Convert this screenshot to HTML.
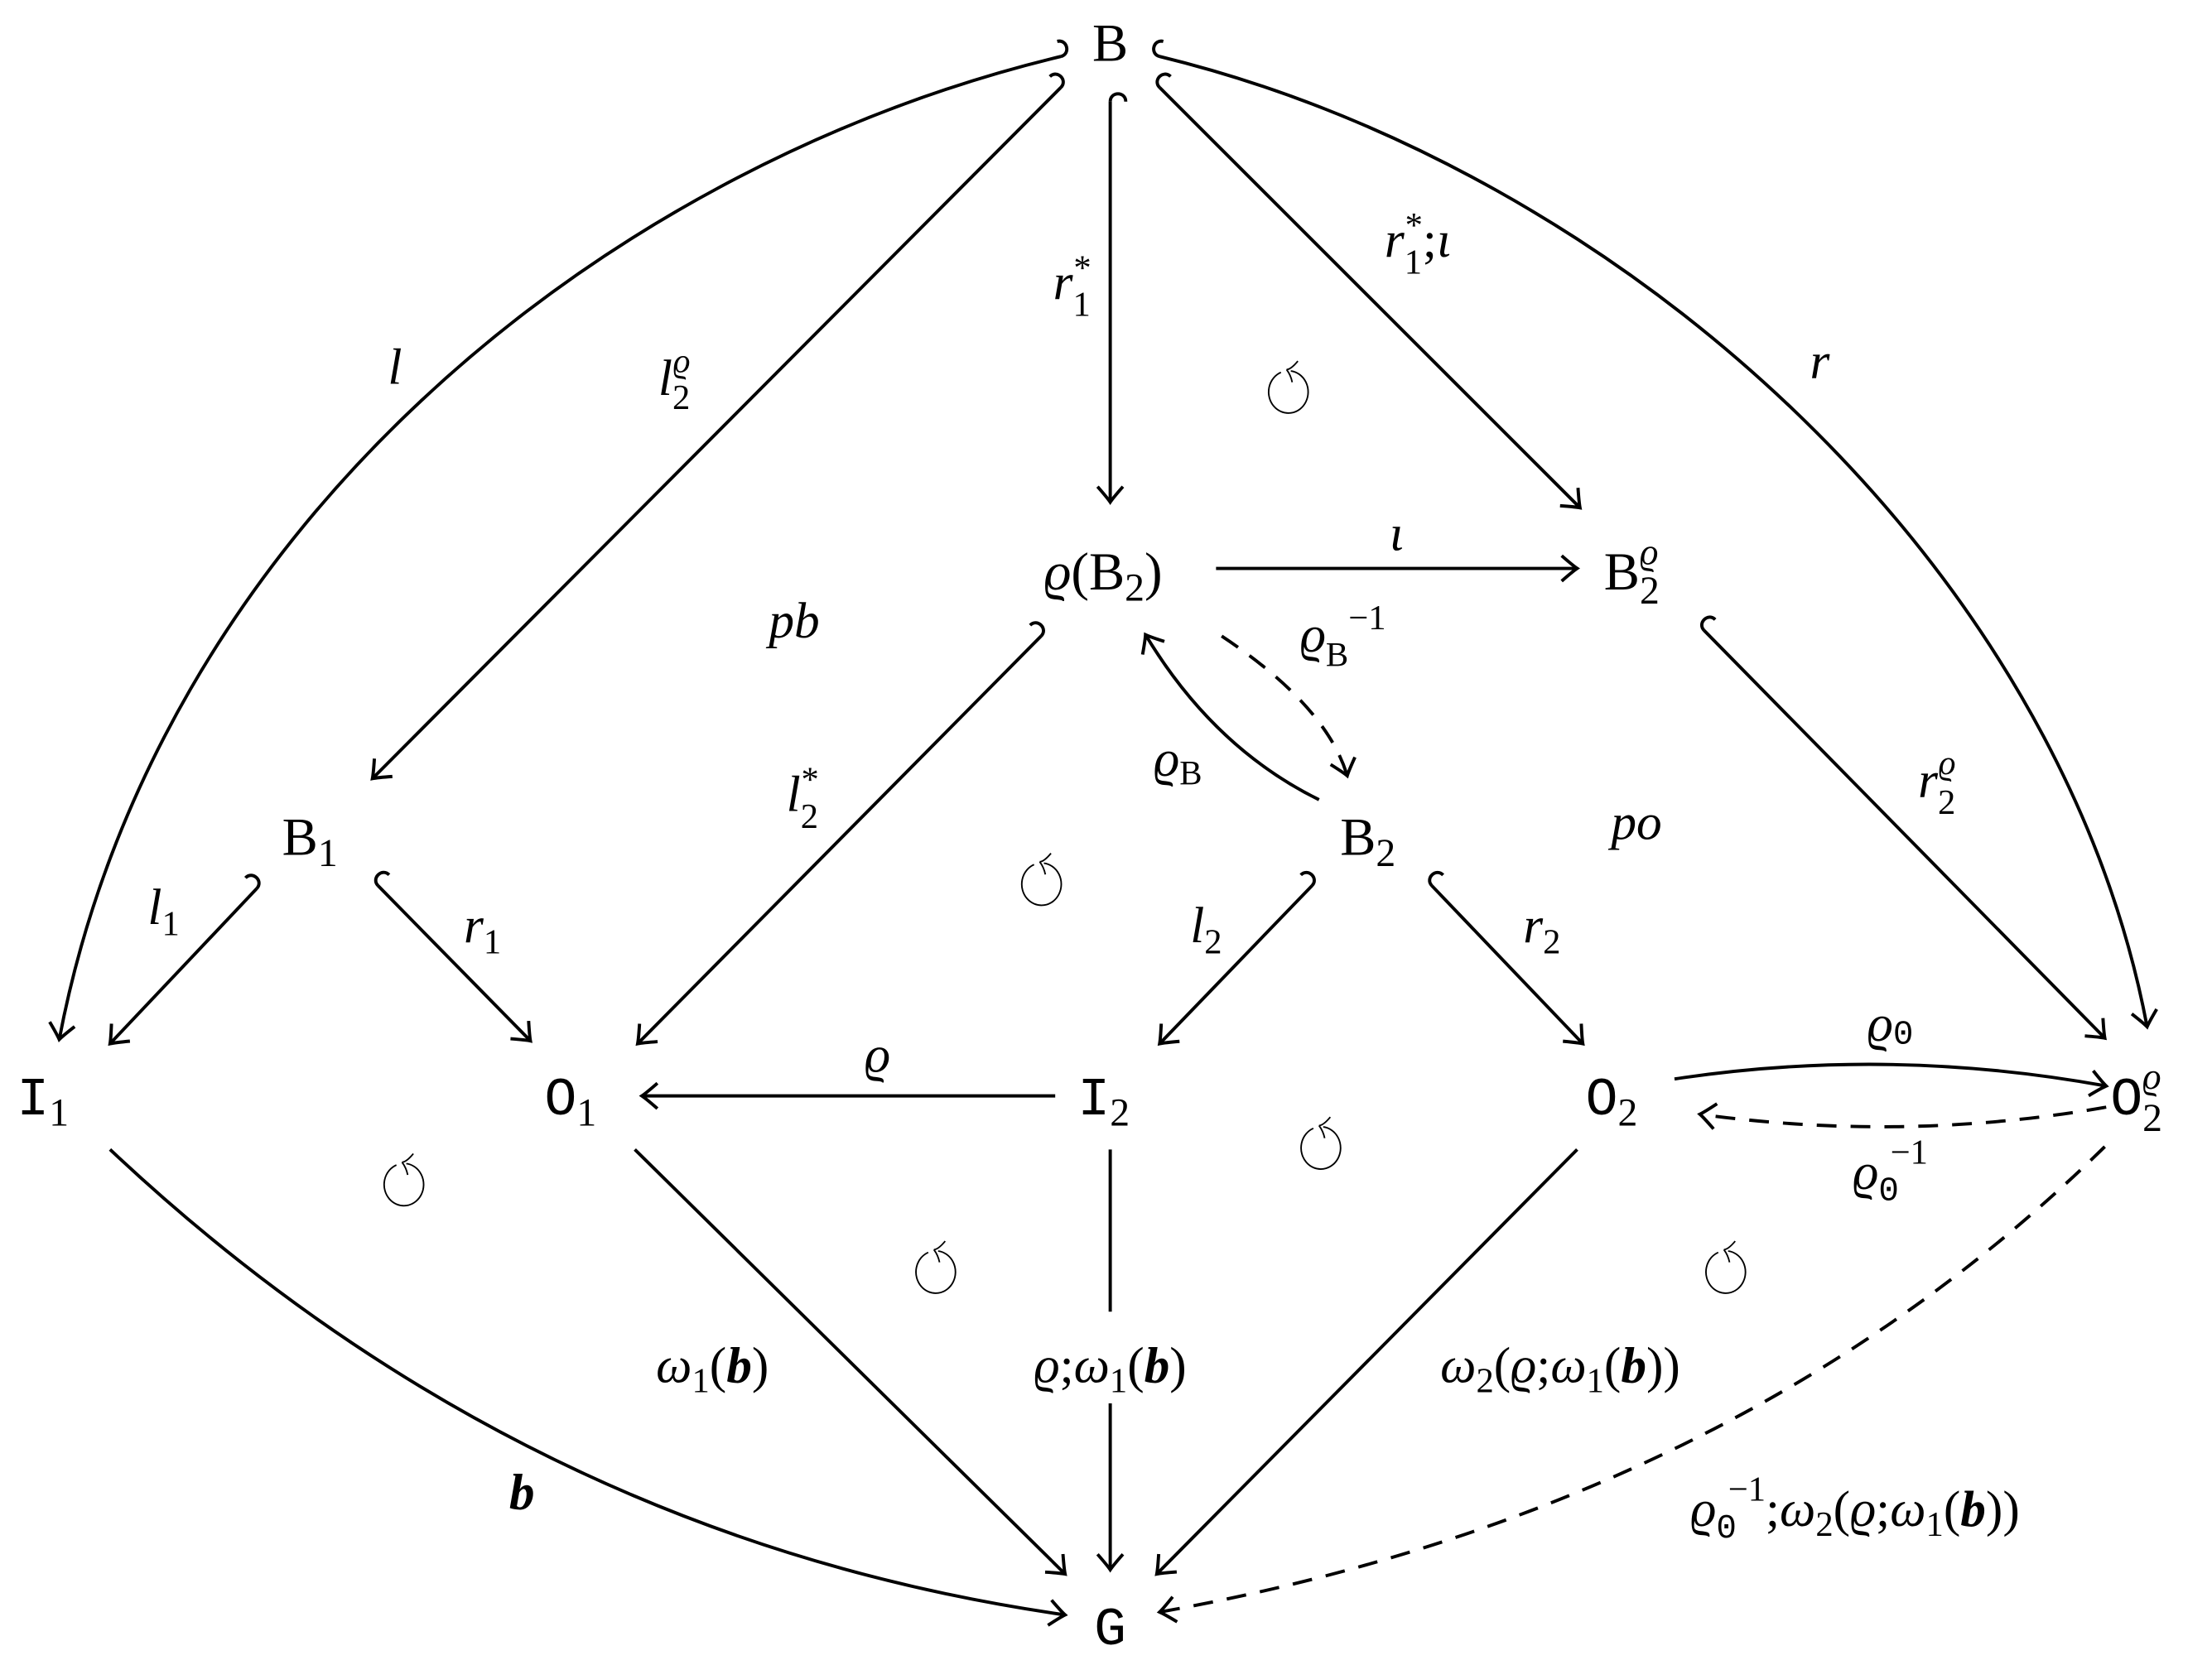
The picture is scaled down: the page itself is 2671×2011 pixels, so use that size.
<!DOCTYPE html>
<html><head><meta charset="utf-8"><style>
html,body{margin:0;padding:0;background:#fff}
svg{display:block}
.n{font-family:"Liberation Serif",serif;font-size:38px}
.m{font-family:"Liberation Mono",monospace;font-size:38px}
.l{font-family:"Liberation Serif",serif;font-size:36px;font-style:italic}
.r{font-style:normal}
</style></head><body>
<svg id="sv" width="2671" height="2011" viewBox="0 0 1568 1180.5" xmlns="http://www.w3.org/2000/svg">
<g id="edges" fill="none" stroke="#000" stroke-width="2.3" stroke-linecap="butt"></g>
<g id="circ" fill="none" stroke="#000" stroke-width="1.1"></g>
<g fill="#000">
<text class="n" x="787" y="43" text-anchor="middle">B</text>
<text class="n" x="782" y="418" text-anchor="middle"><tspan font-style="italic">ϱ</tspan>(B<tspan dy="8" font-size="28">2</tspan><tspan dy="-8">)</tspan></text>
<text class="n" x="1137" y="418">B<tspan dy="10" font-size="28">2</tspan><tspan dy="-28" font-size="26" font-style="italic" dx="-14">ϱ</tspan></text>
<text class="n" x="200" y="606">B<tspan dy="8" font-size="28">1</tspan></text>
<text class="n" x="950" y="606">B<tspan dy="8" font-size="28">2</tspan></text>
<text class="m" x="12" y="790">I<tspan dy="8" font-size="28" font-family="Liberation Serif">1</tspan></text>
<text class="m" x="386" y="790">O<tspan dy="8" font-size="28" font-family="Liberation Serif">1</tspan></text>
<text class="m" x="764" y="790">I<tspan dy="8" font-size="28" font-family="Liberation Serif">2</tspan></text>
<text class="m" x="1124" y="790">O<tspan dy="8" font-size="28" font-family="Liberation Serif">2</tspan></text>
<text class="m" x="1496" y="790">O<tspan dy="12" font-size="28" font-family="Liberation Serif">2</tspan><tspan dy="-30" dx="-14" font-size="26" font-family="Liberation Serif" font-style="italic">ϱ</tspan></text>
<text class="m" x="787" y="1166" text-anchor="middle">G</text>

<text class="l" x="280" y="272" text-anchor="middle">l</text>
<text class="l" x="478" y="280" text-anchor="middle">l<tspan dy="10" font-size="25" class="r">2</tspan><tspan dy="-26" dx="-12" font-size="24">ϱ</tspan></text>
<text class="l" x="760" y="212" text-anchor="middle">r<tspan dy="12" font-size="25" class="r">1</tspan><tspan dy="-26" dx="-12" font-size="25" class="r">*</tspan></text>
<text class="l" x="1005" y="182" text-anchor="middle">r<tspan dy="12" font-size="25" class="r">1</tspan><tspan dy="-26" dx="-12" font-size="25" class="r">*</tspan><tspan dy="14" class="r">;</tspan>ι</text>
<text class="l" x="1290" y="268" text-anchor="middle">r</text>
<text class="l" x="990" y="390" text-anchor="middle">ι</text>
<text class="l" x="952" y="462" text-anchor="middle">ϱ<tspan dy="10" font-size="24" class="r">B</tspan><tspan dy="-26" font-size="25" class="r">−1</tspan></text>
<text class="l" x="835" y="550" text-anchor="middle">ϱ<tspan dy="6" font-size="24" class="r">B</tspan></text>
<text class="l" x="563" y="452" font-size="52" text-anchor="middle">pb</text>
<text class="l" x="1160" y="595" font-size="52" text-anchor="middle">po</text>
<text class="l" x="569" y="575" text-anchor="middle">l<tspan dy="12" font-size="25" class="r">2</tspan><tspan dy="-26" dx="-12" font-size="25" class="r">*</tspan></text>
<text class="l" x="1373" y="565" text-anchor="middle">r<tspan dy="12" font-size="25" class="r">2</tspan><tspan dy="-28" dx="-12" font-size="24">ϱ</tspan></text>
<text class="l" x="116" y="655" text-anchor="middle">l<tspan dy="8" font-size="25" class="r">1</tspan></text>
<text class="l" x="342" y="668" text-anchor="middle">r<tspan dy="8" font-size="25" class="r">1</tspan></text>
<text class="l" x="855" y="668" text-anchor="middle">l<tspan dy="8" font-size="25" class="r">2</tspan></text>
<text class="l" x="1093" y="668" text-anchor="middle">r<tspan dy="8" font-size="25" class="r">2</tspan></text>
<text class="l" x="1340" y="738" text-anchor="middle">ϱ<tspan dy="2" font-size="24" class="r" font-family="Liberation Mono">0</tspan></text>
<text class="l" x="1340" y="843" text-anchor="middle">ϱ<tspan dy="8" font-size="24" class="r" font-family="Liberation Mono">0</tspan><tspan dy="-26" dx="-6" font-size="25" class="r">−1</tspan></text>
<text class="l" x="622" y="760" text-anchor="middle">ϱ</text>
<text class="l" x="505" y="980" text-anchor="middle">ω<tspan dy="7" font-size="25" class="r">1</tspan><tspan dy="-7" class="r">(</tspan><tspan font-weight="bold">b</tspan><tspan class="r">)</tspan></text>
<text class="l" x="787" y="980" text-anchor="middle">ϱ<tspan class="r">;</tspan>ω<tspan dy="7" font-size="25" class="r">1</tspan><tspan dy="-7" class="r">(</tspan><tspan font-weight="bold">b</tspan><tspan class="r">)</tspan></text>
<text class="l" x="1106" y="980" text-anchor="middle">ω<tspan dy="7" font-size="25" class="r">2</tspan><tspan dy="-7" class="r">(</tspan>ϱ<tspan class="r">;</tspan>ω<tspan dy="7" font-size="25" class="r">1</tspan><tspan dy="-7" class="r">(</tspan><tspan font-weight="bold">b</tspan><tspan class="r">))</tspan></text>
<text class="l" x="370" y="1070" text-anchor="middle" font-weight="bold">b</text>
<text class="l" x="1315" y="1082" text-anchor="middle">ϱ<tspan dy="8" font-size="24" class="r" font-family="Liberation Mono">0</tspan><tspan dy="-26" dx="-6" font-size="25" class="r">−1</tspan><tspan dy="18" class="r">;</tspan>ω<tspan dy="7" font-size="25" class="r">2</tspan><tspan dy="-7" class="r">(</tspan>ϱ<tspan class="r">;</tspan>ω<tspan dy="7" font-size="25" class="r">1</tspan><tspan dy="-7" class="r">(</tspan><tspan font-weight="bold">b</tspan><tspan class="r">))</tspan></text>
</g>
</svg>
<script>
var E=document.getElementById('edges'),C=document.getElementById('circ');
function add(d,dash){var p=document.createElementNS('http://www.w3.org/2000/svg','path');p.setAttribute('d',d);if(dash)p.setAttribute('stroke-dasharray','14 10');E.appendChild(p);}
function norm(x,y){var l=Math.hypot(x,y);return[x/l,y/l];}
function head(x,y,dx,dy){var d=norm(dx,dy),n=[-d[1],d[0]],L=11,W=9;
 var a=[x-L*d[0]+W*n[0],y-L*d[1]+W*n[1]],b=[x-L*d[0]-W*n[0],y-L*d[1]-W*n[1]];
 var ca=[x-3*d[0]+2*n[0],y-3*d[1]+2*n[1]],cb=[x-3*d[0]-2*n[0],y-3*d[1]-2*n[1]];
 add('M'+a+' Q'+ca+' '+x+','+y+' Q'+cb+' '+b);}
function hook(x,y,dx,dy){var d=norm(dx,dy),n1=[-d[1],d[0]],n2=[d[1],-d[0]],n;
 if(Math.abs(d[0])<0.05)n=[1,0];else n=(n1[1]<n2[1])?n1:n2;var r=5.5;
 var q=[x+2*r*n[0],y+2*r*n[1]],k=1.33*r;
 add('M'+x+','+y+' C'+(x-k*d[0])+','+(y-k*d[1])+' '+(q[0]-k*d[0])+','+(q[1]-k*d[1])+' '+q);}
function line(a,b,o){o=o||{};add('M'+a+' L'+b,o.dash);head(b[0],b[1],b[0]-a[0],b[1]-a[1]);if(o.hook)hook(a[0],a[1],b[0]-a[0],b[1]-a[1]);}
function cub(a,c1,c2,b,o){o=o||{};add('M'+a+' C'+c1+' '+c2+' '+b,o.dash);head(b[0],b[1],b[0]-c2[0],b[1]-c2[1]);if(o.hook)hook(a[0],a[1],c1[0]-a[0],c1[1]-a[1]);}
function quad(a,c,b,o){o=o||{};add('M'+a+' Q'+c+' '+b,o.dash);head(b[0],b[1],b[0]-c[0],b[1]-c[1]);if(o.hook)hook(a[0],a[1],c[0]-a[0],c[1]-a[1]);}
cub([752,40],[420,120],[110,380],[42,737],{hook:1});
line([752,62],[264,552],{hook:1});
line([787,72],[787,356],{hook:1});
line([822,62],[1120,360],{hook:1});
cub([822,40],[1150,120],[1460,400],[1522,728],{hook:1});
line([862,403],[1118,403]);
quad([866,451],[940,500],[955,550],{dash:1});
quad([935,567],[860,530],[812,450]);
line([738,451],[452,740],{hook:1});
line([1208,447],[1492,736],{hook:1});
line([182,630],[78,740],{hook:1});
line([268,628],[376,738],{hook:1});
line([930,628],[822,740],{hook:1});
line([1015,628],[1122,740],{hook:1});
quad([1187,765],[1340,742],[1493,770]);
quad([1493,785],[1350,810],[1205,790],{dash:1});
line([748,777],[455,777]);
quad([78,815],[370,1090],[755,1145]);
line([450,815],[755,1116]);
add('M787,815 L787,930');line([787,995],[787,1113]);
line([1118,815],[820,1116]);
quad([1492,813],[1230,1070],[822,1143],{dash:1});
[[912,278],[737,627],[285,840],[935,814],[662,902],[1222,902]].forEach(function(p){
 var x=p[0],y=p[1],c=document.createElementNS('http://www.w3.org/2000/svg','path');
 c.setAttribute('d','M'+(x+3)+','+(y-15)+' A14,15 0 1 1 '+(x-4)+','+(y-14));C.appendChild(c);
 var a=document.createElementNS('http://www.w3.org/2000/svg','path');
 a.setAttribute('d','M'+(x+8)+','+(y-22)+' Q'+(x+3)+','+(y-16)+' '+x+','+(y-16)+' M'+x+','+(y-16)+' Q'+(x+3)+','+(y-12)+' '+(x+4)+','+(y-7));C.appendChild(a);});
</script>
</body></html>
